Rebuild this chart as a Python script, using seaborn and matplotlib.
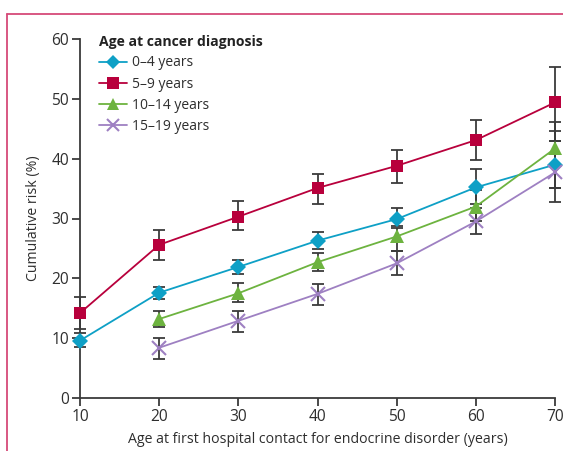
import matplotlib
matplotlib.use("Agg")
import matplotlib.pyplot as plt
from matplotlib.lines import Line2D
import seaborn as sns
import pandas as pd

# Cumulative risk (%) by age at first hospital contact, per age-at-diagnosis group
ages = [10, 20, 30, 40, 50, 60, 70]
groups = ["0–4 years", "5–9 years", "10–14 years", "15–19 years"]

risk_0_4 = [9.6, 17.6, 21.9, 26.3, 29.9, 35.2, 39.0]
low_0_4 = [8.5, 16.5, 20.8, 24.9, 28.8, 32.5, 35.1]
high_0_4 = [10.9, 18.6, 23.1, 27.7, 31.7, 38.2, 44.7]

risk_5_9 = [14.2, 25.6, 30.3, 35.1, 38.8, 43.1, 49.4]
low_5_9 = [11.6, 23.0, 28.0, 32.4, 36.0, 39.7, 43.0]
high_5_9 = [16.8, 28.1, 33.0, 37.5, 41.5, 46.4, 55.3]

ages_older = [20, 30, 40, 50, 60, 70]
risk_10_14 = [13.2, 17.5, 22.7, 27.0, 32.0, 41.7]
low_10_14 = [11.8, 16.1, 21.2, 24.5, 29.5, 35.1]
high_10_14 = [14.5, 19.2, 24.3, 28.4, 34.8, 46.2]

risk_15_19 = [8.4, 12.9, 17.4, 22.5, 29.5, 37.7]
low_15_19 = [6.5, 11.1, 15.6, 20.6, 27.4, 32.8]
high_15_19 = [10.0, 14.6, 19.1, 24.5, 31.8, 43.0]

series = [
    (groups[0], ages, risk_0_4, low_0_4, high_0_4),
    (groups[1], ages, risk_5_9, low_5_9, high_5_9),
    (groups[2], ages_older, risk_10_14, low_10_14, high_10_14),
    (groups[3], ages_older, risk_15_19, low_15_19, high_15_19),
]

colors = {groups[0]: "#0ea0c6", groups[1]: "#b8003c",
          groups[2]: "#6db33f", groups[3]: "#9e80c2"}
markers = {groups[0]: "D", groups[1]: "s", groups[2]: "^", groups[3]: "x"}
msizes = {groups[0]: 8, groups[1]: 9, groups[2]: 10, groups[3]: 10}

rows = []
for name, xs, ys, lo, hi in series:
    for x, y, l, h in zip(xs, ys, lo, hi):
        rows.append({"age": x, "risk": y, "low": l, "high": h, "group": name})
df = pd.DataFrame(rows)

sns.set_theme(style="ticks")
plt.rcParams["font.family"] = ["Open Sans", "DejaVu Sans"]
axis_color = "#3a3a3a"
text_color = "#2e2e2e"

fig = plt.figure(figsize=(5.63, 4.51), dpi=100)
ax = fig.add_axes([80 / 563, 1 - 398 / 451, 475 / 563, 359 / 451])

# confidence intervals
for name in groups:
    sub = df[df["group"] == name]
    ax.errorbar(sub["age"], sub["risk"],
                yerr=[sub["risk"] - sub["low"], sub["high"] - sub["risk"]],
                fmt="none", ecolor="#3b3b3b", elinewidth=1.3, capsize=4,
                capthick=1.3, zorder=2, clip_on=False)

# one line per group so filled and line-art markers can coexist
for name in groups:
    sub = df[df["group"] == name]
    sns.lineplot(data=sub, x="age", y="risk", color=colors[name],
                 marker=markers[name], markersize=msizes[name],
                 markeredgewidth=1.5 if name == groups[3] else 0,
                 markeredgecolor=colors[name], linewidth=1.3, ax=ax,
                 zorder=3, clip_on=False)

for line in ax.lines:
    line.set_clip_on(False)

ax.set_xlim(10, 70)
ax.set_ylim(0, 60)
ax.set_xticks(ages)
ax.set_yticks([0, 10, 20, 30, 40, 50, 60])
for side in ("top", "right"):
    ax.spines[side].set_visible(False)
for side in ("left", "bottom"):
    ax.spines[side].set_color(axis_color)
    ax.spines[side].set_linewidth(1.3)
ax.tick_params(axis="both", colors=axis_color, labelcolor=text_color,
               width=1.3, length=6, labelsize=11.2, pad=2)

ax.set_xlabel("Age at first hospital contact for endocrine disorder (years)",
              fontsize=10.2, color=text_color, labelpad=5)
ax.set_ylabel("Cumulative risk (%)", fontsize=10.2, color=text_color, labelpad=7)

handles = [Line2D([], [], color=colors[g], marker=markers[g],
                  markersize=msizes[g] - 1,
                  markeredgewidth=1.5 if g == groups[3] else 0,
                  markeredgecolor=colors[g], linewidth=1.3)
           for g in groups]
leg = ax.legend(handles, groups, title="Age at cancer diagnosis",
                loc="upper left", bbox_to_anchor=(0.025, 1.03),
                frameon=False, fontsize=10, handlelength=2.0,
                handletextpad=0.4, labelspacing=0.45, borderpad=0,
                labelcolor=text_color)
leg.get_title().set_fontweight("bold")
leg.get_title().set_fontsize(10.1)
leg.get_title().set_color("#222222")
leg._legend_box.align = "left"

# panel frame along the top and left edges
frame_color = "#d64a78"
fig.add_artist(Line2D([7 / 563, 7 / 563], [0, 1 - 14 / 451],
                      transform=fig.transFigure, color=frame_color, lw=1.3))
fig.add_artist(Line2D([7 / 563, 1], [1 - 14 / 451, 1 - 14 / 451],
                      transform=fig.transFigure, color=frame_color, lw=1.3))

fig.savefig("out.png", dpi=100)
